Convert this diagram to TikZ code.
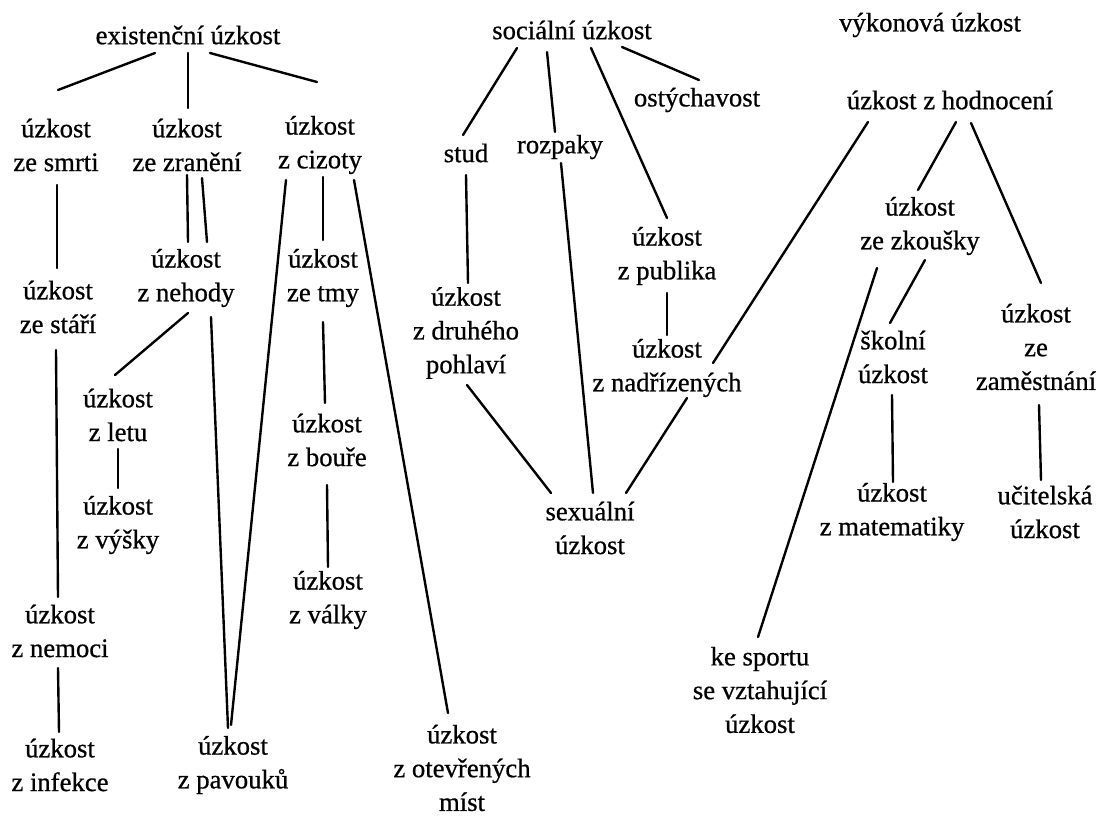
\documentclass[tikz,border=0pt]{standalone}
\usepackage{fontspec}
\setmainfont{Liberation Serif}[FakeBold=0.7]
\usetikzlibrary{calc}
\tikzset{
  uz/.style={align=center, font=\fontsize{19}{24}\selectfont},
  spoj/.style={line width=1.7pt, line cap=round}
}
\begin{document}
\begin{tikzpicture}[x=0.025cm, y=-0.025cm]
	\useasboundingbox (0,0) rectangle (1097,817);

	%existencni
	\node[uz] (exist) at (188,35) {existenční úzkost};
	\node[uz] (smrti) at (56,145) {úzkost\\ze smrti};
	\node[uz] (zraneni) at (187,145) {úzkost\\ze zranění};
	\node[uz] (cizoty) at (320,145) {úzkost\\z cizoty};
	\node[uz] (stari) at (58,307) {úzkost\\ze stáří};
	\node[uz] (nehody) at (186,278) {úzkost\\z nehody};
	\node[uz] (tmy) at (323,278) {úzkost\\ze tmy};
	\node[uz] (letu) at (118,415) {úzkost\\z letu};
	\node[uz] (vysky) at (118,525) {úzkost\\z výšky};
	\node[uz] (boure) at (327,440) {úzkost\\z bouře};
	\node[uz] (valky) at (328,600) {úzkost\\z války};
	\node[uz] (nemoci) at (60,631) {úzkost\\z nemoci};
	\node[uz] (infekce) at (60,765) {úzkost\\z infekce};
	\node[uz] (pavouku) at (233,765) {úzkost\\z pavouků};
	\node[uz] (otevr) at (462,768) {úzkost\\z otevřených\\míst};

	\draw[spoj] ($(exist.center)+(-33,18)$) -- ($(smrti.center)+(2,-55)$);
	\draw[spoj] ($(exist.center)+(0,18)$) -- ($(zraneni.center)+(1,-37)$);
	\draw[spoj] ($(exist.center)+(22,18)$) -- ($(cizoty.center)+(-3,-63)$);
	\draw[spoj] ($(smrti.center)+(1,40)$) -- ($(stari.center)+(-1,-39)$);
	\draw[spoj] ($(zraneni.center)+(0,30)$) -- ($(nehody.center)+(2,-36)$);
	\draw[spoj] ($(zraneni.center)+(15,33)$) -- ($(nehody.center)+(21,-36)$);
	\draw[spoj] ($(cizoty.center)+(-34,35)$) -- ($(pavouku.center)+(-2,-40)$);
	\draw[spoj] ($(cizoty.center)+(3,32)$) -- ($(tmy.center)+(0,-38)$);
	\draw[spoj] ($(cizoty.center)+(34,35)$) -- ($(otevr.center)+(-14,-55)$);
	\draw[spoj] ($(stari.center)+(-2,43)$) -- ($(nemoci.center)+(-2,-34)$);
	\draw[spoj] ($(nehody.center)+(2,35)$) -- ($(letu.center)+(-3,-40)$);
	\draw[spoj] ($(nehody.center)+(25,39)$) -- ($(pavouku.center)+(-5,-37)$);
	\draw[spoj] ($(letu.center)+(0,34)$) -- ($(vysky.center)+(0,-37)$);
	\draw[spoj] ($(tmy.center)+(0,44)$) -- ($(boure.center)+(-2,-37)$);
	\draw[spoj] ($(boure.center)+(0,45)$) -- ($(valky.center)+(0,-33)$);
	\draw[spoj] ($(nemoci.center)+(-2,37)$) -- ($(infekce.center)+(-1,-33)$);

	%socialni
	\node[uz] (social) at (572,30) {sociální úzkost};
	\node[uz] (ostych) at (697,100) {ostýchavost};
	\node[uz] (stud) at (466,153) {stud};
	\node[uz] (rozpaky) at (560,147) {rozpaky};
	\node[uz] (publika) at (667,256) {úzkost\\z publika};
	\node[uz] (nadriz) at (667,368) {úzkost\\z nadřízených};
	\node[uz] (druheho) at (466,333) {úzkost\\z druhého\\pohlaví};
	\node[uz] (sexual) at (590,528) {sexuální\\úzkost};

	\draw[spoj] ($(social.center)+(-55,18)$) -- ($(stud.center)+(-3,-18)$);
	\draw[spoj] ($(social.center)+(-25,22)$) -- ($(rozpaky.center)+(-5,-15)$);
	\draw[spoj] ($(social.center)+(19,18)$) -- ($(publika.center)+(0,-38)$);
	\draw[spoj] ($(social.center)+(50,17)$) -- ($(ostych.center)+(2,-20)$);
	\draw[spoj] ($(stud.center)+(0,22)$) -- ($(druheho.center)+(2,-50)$);
	\draw[spoj] ($(rozpaky.center)+(1,16)$) -- ($(sexual.center)+(3,-35)$);
	\draw[spoj] ($(publika.center)+(0,37)$) -- ($(nadriz.center)+(0,-33)$);
	\draw[spoj] ($(druheho.center)+(1,52)$) -- ($(sexual.center)+(-39,-35)$);
	\draw[spoj] ($(nadriz.center)+(20,30)$) -- ($(sexual.center)+(36,-35)$);

	%vykonova
	\node[uz] (vykon) at (930,25) {výkonová úzkost};
	\node[uz] (hodnoc) at (950,100) {úzkost z hodnocení};
	\node[uz] (zkousky) at (920,226) {úzkost\\ze zkoušky};
	\node[uz] (skolni) at (893,357) {školní\\úzkost};
	\node[uz] (zamest) at (1036,347) {úzkost\\ze\\zaměstnání};
	\node[uz] (matem) at (892,512) {úzkost\\z matematiky};
	\node[uz] (ucitel) at (1045,512) {učitelská\\úzkost};
	\node[uz] (sport) at (760,690) {ke sportu\\se vztahující\\úzkost};

	\draw[spoj] ($(hodnoc.center)+(-82,22)$) -- ($(nadriz.center)+(46,-5)$);
	\draw[spoj] ($(hodnoc.center)+(6,22)$) -- ($(zkousky.center)+(-2,-36)$);
	\draw[spoj] ($(hodnoc.center)+(21,23)$) -- ($(zamest.center)+(5,-64)$);
	\draw[spoj] ($(zkousky.center)+(-43,42)$) -- ($(sport.center)+(-2,-53)$);
	\draw[spoj] ($(zkousky.center)+(5,34)$) -- ($(skolni.center)+(-3,-34)$);
	\draw[spoj] ($(skolni.center)+(-1,38)$) -- ($(matem.center)+(1,-30)$);
	\draw[spoj] ($(zamest.center)+(3,58)$) -- ($(ucitel.center)+(-4,-32)$);
\end{tikzpicture}
\end{document}
